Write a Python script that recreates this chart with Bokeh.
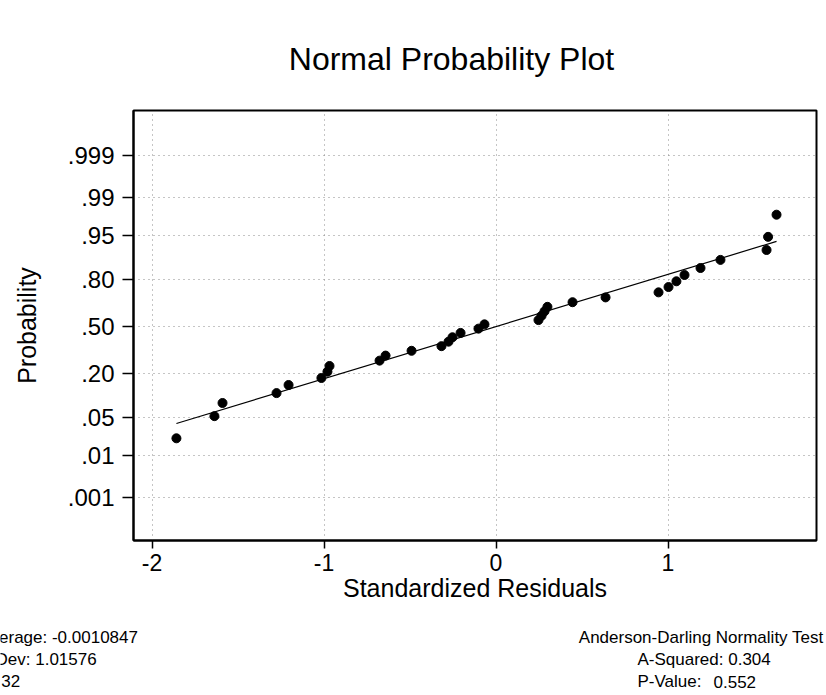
import math
from statistics import NormalDist
from bokeh.plotting import figure
from bokeh.layouts import column
from bokeh.models import Label, Range1d, FixedTicker, ColumnDataSource
from bokeh.embed import file_html
from bokeh.resources import INLINE

# ---------------- data ----------------
residuals = [-1.858, -1.637, -1.590, -1.276, -1.206, -1.015, -0.980, -0.968,
             -0.677, -0.642, -0.491, -0.317, -0.276, -0.253, -0.206, -0.102,
             -0.067, 0.247, 0.265, 0.282, 0.299, 0.445, 0.637, 0.945,
             1.003, 1.049, 1.096, 1.189, 1.305, 1.573, 1.582, 1.631]
probabilities = [0.0216, 0.0525, 0.0833, 0.1142, 0.1451, 0.1759, 0.2068, 0.2377,
                 0.2685, 0.2994, 0.3302, 0.3611, 0.3920, 0.4228, 0.4537, 0.4846,
                 0.5154, 0.5463, 0.5772, 0.6080, 0.6389, 0.6698, 0.7006, 0.7315,
                 0.7623, 0.7932, 0.8241, 0.8549, 0.8858, 0.9167, 0.9475, 0.9784]
prob_ticks = [0.001, 0.01, 0.05, 0.20, 0.50, 0.80, 0.95, 0.99, 0.999]
prob_tick_labels = [".001", ".01", ".05", ".20", ".50", ".80", ".95", ".99", ".999"]
x_ticks = [-2, -1, 0, 1]
x_tick_labels = ["-2", "-1", "0", "1"]
fit_x = [-1.858, 1.631]
fit_prob = [0.0397, 0.938]
stats_left = ["Average: -0.0010847", "StDev: 1.01576", "N: 32"]
test_title = "Anderson-Darling Normality Test"
test_lines = ["A-Squared: 0.304", "P-Value:"]
p_value = "0.552"

nd = NormalDist()
z = [nd.inv_cdf(q) for q in probabilities]
tick_z = [nd.inv_cdf(q) for q in prob_ticks]
fit_z = [nd.inv_cdf(q) for q in fit_prob]

FONT = "Liberation Sans"
W = 826
TOP_H = 108
FL, FR = 133, 816           # frame left/right (px)
FRAME_H = 430
MAIN_BOTTOM = 80
MAIN_H = 2 + FRAME_H + MAIN_BOTTOM
BOT_H = 695 - TOP_H - MAIN_H
X0, XPX = 495.5, 172.0       # px of x=0, px per unit
ZC, ZPX = 216.0 + 2, 55.3    # z=0 row inside main canvas, px per z unit


def no_align(f):
    try:
        f.frame_align = False
    except Exception:
        pass


def text_panel(h):
    f = figure(width=W, height=h, output_backend="svg", toolbar_location=None,
               x_range=Range1d(0, W), y_range=Range1d(h, 0),
               x_axis_location=None, y_axis_location=None,
               min_border=0, min_border_left=0, min_border_right=0,
               min_border_top=0, min_border_bottom=0)
    f.grid.visible = False
    f.outline_line_color = None
    f.title.visible = False
    f.background_fill_color = "white"
    f.border_fill_color = "white"
    no_align(f)
    return f


def lab(f, x, y, text, size, align="left", baseline="middle"):
    f.add_layout(Label(x=x, y=y, text=text, text_font=FONT, text_font_size=size,
                       text_align=align, text_baseline=baseline,
                       text_color="black"))

# ---------- title panel ----------
top = text_panel(TOP_H)
lab(top, 451, 58, "Normal Probability Plot", "32px", "center", "alphabetic")

# ---------- main plot ----------
p = figure(width=W, height=MAIN_H, output_backend="svg", toolbar_location=None,
           x_range=Range1d((FL - X0) / XPX, (FR - X0) / XPX),
           y_range=Range1d(-(2 + FRAME_H - ZC) / ZPX, (ZC - 2) / ZPX),
           min_border_left=FL, min_border_right=W - FR,
           min_border_top=2, min_border_bottom=MAIN_BOTTOM)
no_align(p)
p.title.visible = False
p.background_fill_color = "white"
p.border_fill_color = "white"
p.outline_line_color = "black"
p.outline_line_width = 2

p.xaxis.ticker = FixedTicker(ticks=x_ticks)
p.xaxis.major_label_overrides = {t: l for t, l in zip(x_ticks, x_tick_labels)}
p.yaxis.ticker = FixedTicker(ticks=tick_z)
p.yaxis.major_label_overrides = {t: l for t, l in zip(tick_z, prob_tick_labels)}
for ax in (p.xaxis[0], p.yaxis[0]):
    ax.axis_line_color = "black"
    ax.axis_line_width = 2
    ax.major_tick_line_color = "black"
    ax.major_tick_line_width = 1.5
    ax.major_tick_in = 0
    ax.minor_tick_line_color = None
    ax.major_label_text_font = FONT
    ax.major_label_text_color = "black"
    ax.axis_label_text_font = FONT
    ax.axis_label_text_font_style = "normal"
    ax.axis_label_text_color = "black"
p.yaxis.major_label_text_font_size = "24px"
p.xaxis.major_label_text_font_size = "23px"
p.yaxis.major_tick_out = 11
p.xaxis.major_tick_out = 8
p.yaxis.major_label_standoff = 8
p.xaxis.major_label_standoff = 5
p.yaxis.axis_label = "Probability"
p.yaxis.axis_label_text_font_size = "25px"
p.yaxis.axis_label_standoff = 24
p.xaxis.axis_label = "Standardized Residuals"
p.xaxis.axis_label_text_font_size = "25px"
p.xaxis.axis_label_standoff = 0

for g in (p.xgrid[0], p.ygrid[0]):
    g.grid_line_color = "#8a8a8a"
    g.grid_line_dash = "1 4"
    g.grid_line_width = 1
p.xgrid.ticker = FixedTicker(ticks=x_ticks)
p.ygrid.ticker = FixedTicker(ticks=tick_z)

p.line(fit_x, fit_z, line_color="black", line_width=1.2)
src = ColumnDataSource(dict(x=residuals, y=z))
p.scatter("x", "y", source=src, size=9, fill_color="black", line_color="black")

# ---------- statistics panel ----------
bot = text_panel(BOT_H)
y0 = TOP_H + MAIN_H  # canvas y of this panel's top edge
for i, t in enumerate(stats_left):
    lab(bot, -21, 637 + 22 * i - y0, t, "17px")
lab(bot, 823, 637 - y0, test_title, "17px", "right")
for i, t in enumerate(test_lines):
    lab(bot, 637, 659 + 22 * i - y0, t, "17px")
lab(bot, 713, 681 - y0, p_value, "17px", "left")

layout = column(top, p, bot, spacing=0)
no_align(layout)
open("out.html", "w").write(file_html(layout, INLINE))
